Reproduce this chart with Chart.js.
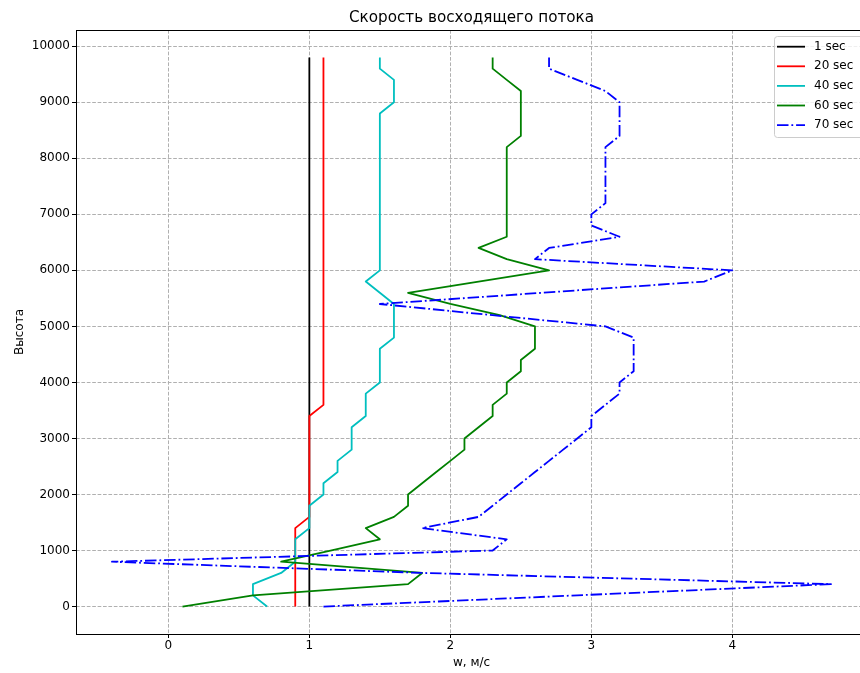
<!DOCTYPE html>
<html><head><meta charset="utf-8">
<script src="https://cdn.jsdelivr.net/npm/chart.js@4"></script>
<style>html,body{margin:0;padding:0;overflow:hidden;background:#fff}canvas{display:block}</style>
</head><body>
<canvas id="c" width="880" height="673"></canvas>
<script>
// ---- data ----
const heights = [0,200,400,600,800,1000,1200,1400,1600,1800,
                 2000,2200,2400,2600,2800,3000,3200,3400,3600,3800,
                 4000,4200,4400,4600,4800,5000,5200,5400,5600,5800,
                 6000,6200,6400,6600,6800,7000,7200,7400,7600,7800,
                 8000,8200,8400,8600,8800,9000,9200,9400,9600,9800];
const w1  = [1,1,1,1,1,1,1,1,1,1, 1,1,1,1,1,1,1,1,1,1, 1,1,1,1,1,1,1,1,1,1, 1,1,1,1,1,1,1,1,1,1, 1,1,1,1,1,1,1,1,1,1];
const w20 = [0.9,0.9,0.9,0.9,0.9,0.9,0.9,0.9,1.0,1.0,
             1.0,1.0,1.0,1.0,1.0,1.0,1.0,1.0,1.1,1.1,
             1.1,1.1,1.1,1.1,1.1,1.1,1.1,1.1,1.1,1.1,
             1.1,1.1,1.1,1.1,1.1,1.1,1.1,1.1,1.1,1.1,
             1.1,1.1,1.1,1.1,1.1,1.1,1.1,1.1,1.1,1.1];
const w40 = [0.7,0.6,0.6,0.8,0.9,0.9,0.9,1.0,1.0,1.0,
             1.1,1.1,1.2,1.2,1.3,1.3,1.3,1.4,1.4,1.4,
             1.5,1.5,1.5,1.5,1.6,1.6,1.6,1.6,1.5,1.4,
             1.5,1.5,1.5,1.5,1.5,1.5,1.5,1.5,1.5,1.5,
             1.5,1.5,1.5,1.5,1.5,1.6,1.6,1.6,1.5,1.5];
const w60 = [0.1,0.6,1.7,1.8,0.8,1.15,1.5,1.4,1.6,1.7,
             1.7,1.8,1.9,2.0,2.1,2.1,2.2,2.3,2.3,2.4,
             2.4,2.5,2.5,2.6,2.6,2.6,2.35,2.0,1.7,2.2,
             2.7,2.4,2.2,2.4,2.4,2.4,2.4,2.4,2.4,2.4,
             2.4,2.4,2.5,2.5,2.5,2.5,2.5,2.4,2.3,2.3];
const w70 = [1.1,2.9,4.7,1.8,-0.4,2.3,2.4,1.8,2.2,2.3,
             2.4,2.5,2.6,2.7,2.8,2.9,3.0,3.0,3.1,3.2,
             3.2,3.3,3.3,3.3,3.3,3.1,2.3,1.5,2.65,3.8,
             4.0,2.6,2.7,3.2,3.0,3.0,3.1,3.1,3.1,3.1,
             3.1,3.1,3.2,3.2,3.2,3.2,3.1,2.9,2.7,2.7];
const seriesLabels = ['1 sec','20 sec','40 sec','60 sec','70 sec'];
const xTicks = [0,1,2,3,4];
const yTicks = [0,1000,2000,3000,4000,5000,6000,7000,8000,9000,10000];
const titleText = 'Скорость восходящего потока';
const xTitle = 'w, м/с';
const yTitle = 'Высота';

// ---- styles ----
const colors = ['#000000','#ff0000','#00bfbf','#008000','#0000ff'];
const dashes = [[],[],[],[],[11.5,2.9,1.8,2.9]];
const FONT = '"DejaVu Sans", sans-serif';

Chart.defaults.font.family = FONT;
Chart.defaults.color = '#000';

const series = [w1,w20,w40,w60,w70];
const datasets = series.map((arr,i)=>({
  label: seriesLabels[i],
  data: arr.map((w,j)=>({x:w, y:heights[j]})),
  borderColor: colors[i],
  backgroundColor: colors[i],
  borderWidth: 1.8,
  borderDash: dashes[i],
  borderCapStyle: 'butt',
  borderJoinStyle: 'round',
  pointRadius: 0,
  pointHoverRadius: 0,
  showLine: true,
  fill: false,
  tension: 0,
  order: series.length - i
}));

const gridCommon = {
  color: '#b0b0b0',
  lineWidth: 1,
  drawTicks: true,
  tickLength: 4,
  tickColor: '#000',
  tickWidth: 1,
  tickBorderDash: []
};

const framePlugin = {
  id: 'frameLegend',
  afterDraw(chart) {
    const {ctx, chartArea: a} = chart;
    ctx.save();
    ctx.setLineDash([]);
    ctx.strokeStyle = '#000';
    ctx.lineWidth = 1;
    ctx.strokeRect(Math.round(a.left)+0.5, Math.round(a.top)+0.5,
                   Math.round(a.right-a.left), Math.round(a.bottom-a.top));
    // legend
    const lx = a.right - 92.5, ly = a.top + 6.5, lw = 95, lh = 101;
    ctx.beginPath();
    ctx.roundRect(lx, ly, lw, lh, 3);
    ctx.fillStyle = 'rgba(255,255,255,0.8)';
    ctx.fill();
    ctx.strokeStyle = '#cccccc';
    ctx.lineWidth = 1;
    ctx.stroke();
    chart.data.datasets.forEach((ds,i)=>{
      const y = ly + 10.2 + i*19.6;
      ctx.beginPath();
      ctx.setLineDash(ds.borderDash || []);
      ctx.strokeStyle = ds.borderColor;
      ctx.lineWidth = ds.borderWidth;
      ctx.lineCap = 'butt';
      ctx.moveTo(lx + 2.5, y);
      ctx.lineTo(lx + 30.5, y);
      ctx.stroke();
      ctx.setLineDash([]);
      ctx.fillStyle = '#000';
      ctx.font = '12px ' + FONT;
      ctx.textBaseline = 'middle';
      ctx.textAlign = 'left';
      ctx.fillText(ds.label, lx + 39.5, y);
    });
    ctx.restore();
  }
};

new Chart(document.getElementById('c'), {
  type: 'scatter',
  data: { datasets },
  options: {
    responsive: false,
    devicePixelRatio: 1,
    animation: false,
    layout: { padding: { left: 0, right: 13, top: 0, bottom: 0 } },
    plugins: {
      legend: { display: false },
      tooltip: { enabled: false },
      title: {
        display: true,
        text: titleText,
        fullSize: false,
        color: '#000',
        font: { family: FONT, size: 15.2, weight: 'normal', lineHeight: 1.2 },
        padding: { top: 9, bottom: 30 - 9 - 15.2*1.2 }
      }
    },
    scales: {
      x: {
        type: 'linear',
        min: -0.655, max: 4.955,
        afterBuildTicks: s => { s.ticks = xTicks.map(v => ({value: v})); },
        afterFit: s => { s.height = 39; },
        ticks: { padding: 1, color: '#000', font: { size: 12 }, callback: v => String(v), maxRotation: 0, autoSkip: false },
        grid: gridCommon,
        border: { display: false, dash: [3.7, 1.7] },
        title: { display: true, text: xTitle, color: '#000', font: { size: 12 }, padding: { top: 0, bottom: 3 } }
      },
      y: {
        type: 'linear',
        min: -490, max: 10290,
        afterBuildTicks: s => { s.ticks = yTicks.map(v => ({value: v})); },
        afterFit: s => { s.width = 76; },
        ticks: { padding: 2, color: '#000', font: { size: 12 }, callback: v => String(v), autoSkip: false },
        grid: gridCommon,
        border: { display: false, dash: [3.7, 1.7] },
        title: { display: true, text: yTitle, color: '#000', font: { size: 12 }, padding: { top: 13, bottom: 0 } }
      }
    }
  },
  plugins: [framePlugin]
});
</script>
</body></html>
